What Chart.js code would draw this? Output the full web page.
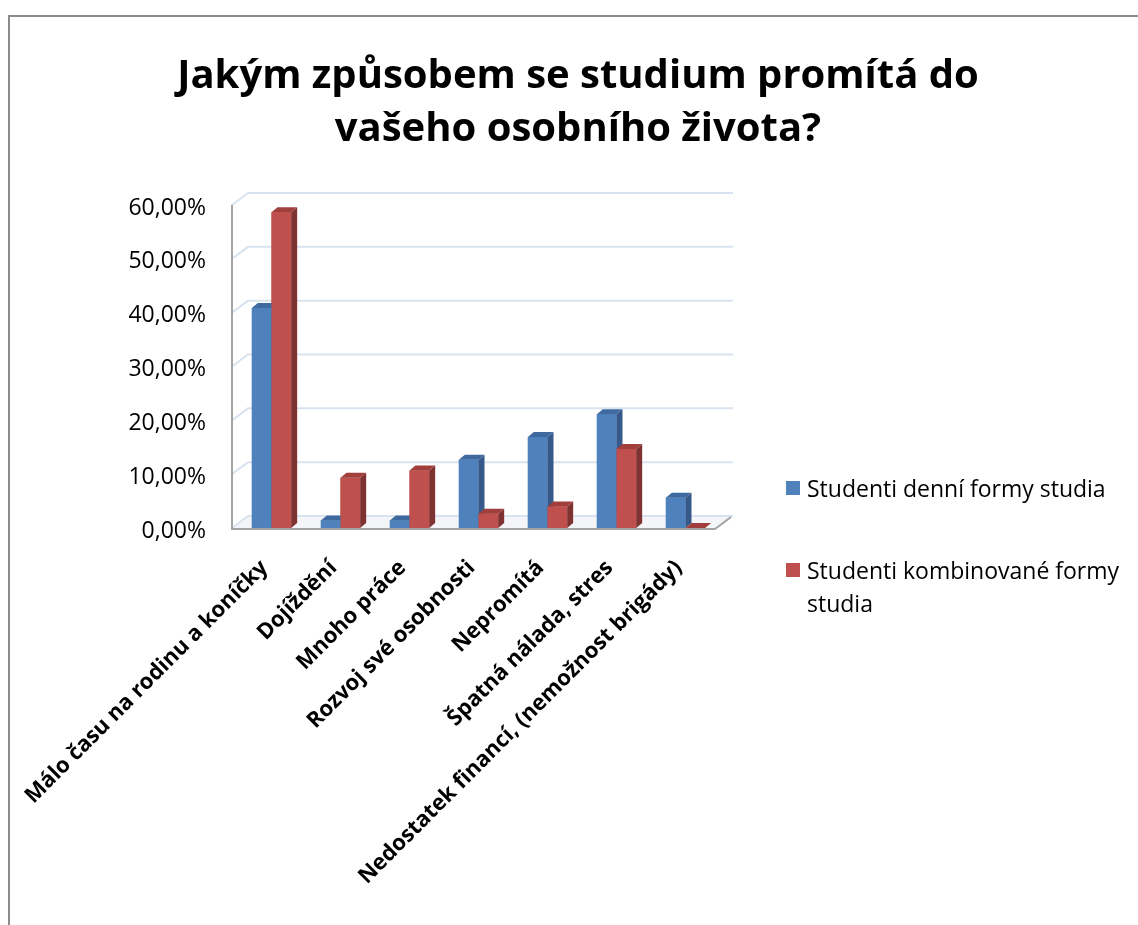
<!DOCTYPE html>
<html>
<head>
<meta charset="utf-8">
<script src="https://cdn.jsdelivr.net/npm/chart.js@4.4.0/dist/chart.umd.min.js"></script>
<style>
html, body { margin: 0; padding: 0; background: #fff; }
body { width: 1138px; height: 925px; position: relative; overflow: hidden; font-family: "Open Sans", sans-serif; }
#frame { position: absolute; left: 8px; top: 15px; width: 1200px; height: 1000px; border-left: 2px solid #8c8c8c; border-top: 2px solid #8c8c8c; }
#chart { position: absolute; left: 0; top: 0; }
#title { position: absolute; left: 0; top: 46px; width: 1156px; text-align: center; font-weight: bold; font-size: 40px; line-height: 53px; color: #000; }
#legend { position: absolute; left: 786px; top: 472px; width: 370px; font-size: 23px; color: #000; }
.item { position: relative; padding-left: 21px; line-height: 33px; margin-bottom: 49px; }
.item .box { position: absolute; left: 0; top: 9px; width: 14px; height: 14px; }
</style>
</head>
<body>
<div id="frame"></div>
<canvas id="chart" width="1138" height="925"></canvas>
<div id="title"></div>
<div id="legend"></div>
<script>
var categories = ['Málo času na rodinu a koníčky', 'Dojíždění', 'Mnoho práce', 'Rozvoj své osobnosti',
  'Nepromítá', 'Špatná nálada, stres', 'Nedostatek financí, (nemožnost brigády)'];
var denni = [40.85, 1.41, 1.41, 12.68, 16.90, 21.13, 5.63];
var kombinovane = [58.67, 9.33, 10.67, 2.67, 4.00, 14.67, 0];
var seriesNames = ['Studenti denní formy studia', 'Studenti kombinované formy studia'];
var yTicks = [0, 10, 20, 30, 40, 50, 60];
var titleLines = ['Jakým způsobem se studium promítá do', 'vašeho osobního života?'];

// front, side, top shades for each series
var shades = [
  { front: '#4f81bd', side: '#37598a', top: '#3f6aa0' },
  { front: '#c0504d', side: '#7f3331', top: '#a13f3c' }
];
var depth = { x: 16, y: -12 };    // walls and floor
var barDepth = { x: 6, y: -5 };   // bars
var wallShift = 5;

function fmtPct(v) {
  return v.toFixed(2).replace('.', ',') + '%';
}

function poly(ctx, pts, fill) {
  ctx.beginPath();
  ctx.moveTo(pts[0][0], pts[0][1]);
  for (var i = 1; i < pts.length; i++) ctx.lineTo(pts[i][0], pts[i][1]);
  ctx.closePath();
  ctx.fillStyle = fill;
  ctx.fill();
}

var walls = {
  id: 'walls',
  beforeDatasetsDraw: function(chart) {
    var ctx = chart.ctx, a = chart.chartArea, ys = chart.scales.y;
    var x0 = a.left - wallShift, x1 = a.right - wallShift;
    ctx.save();
    poly(ctx, [[x0, a.bottom], [x1, a.bottom], [x1 + depth.x, a.bottom + depth.y], [x0 + depth.x, a.bottom + depth.y]], '#f3f5f8');
    ctx.strokeStyle = '#d9e3f0';
    ctx.lineWidth = 2;
    yTicks.forEach(function(v) {
      var y = ys.getPixelForValue(v);
      ctx.beginPath();
      ctx.moveTo(x0, y);
      ctx.lineTo(x0 + depth.x, y + depth.y);
      ctx.lineTo(x1 + depth.x + 2, y + depth.y);
      ctx.stroke();
    });
    ctx.strokeStyle = '#a3a3a3';
    ctx.beginPath();
    ctx.moveTo(x0, ys.getPixelForValue(yTicks[yTicks.length - 1]));
    ctx.lineTo(x0, a.bottom + 1);
    ctx.lineTo(x1, a.bottom + 1);
    ctx.lineTo(x1 + depth.x, a.bottom + 1 + depth.y);
    ctx.stroke();
    ctx.restore();
  },
  afterDatasetsDraw: function(chart) {
    var ctx = chart.ctx;
    ctx.save();
    for (var d = 0; d < chart.data.datasets.length; d++) {
      var meta = chart.getDatasetMeta(d), c = shades[d];
      meta.data.forEach(function(bar) {
        var p = bar.getProps(['x', 'y', 'base', 'width'], true);
        var l = p.x - p.width / 2, r = p.x + p.width / 2;
        var t = Math.min(p.y, p.base), b = Math.max(p.y, p.base);
        bar.draw(ctx);
        poly(ctx, [[r, t], [r + barDepth.x, t + barDepth.y], [r + barDepth.x, b + barDepth.y], [r, b]], c.side);
        poly(ctx, [[l, t], [l + barDepth.x, t + barDepth.y], [r + barDepth.x, t + barDepth.y], [r, t]], c.top);
      });
    }
    ctx.restore();
  }
};

document.getElementById('title').innerHTML = titleLines.join('<br>');
document.getElementById('legend').innerHTML = seriesNames.map(function(n, i) {
  return '<div class="item"><span class="box" style="background:' + shades[i].front + '"></span>' + n + '</div>';
}).join('');

var ctx = document.getElementById('chart');
new Chart(ctx, {
  type: 'bar',
  data: {
    labels: categories,
    datasets: [
      { label: seriesNames[0], data: denni, backgroundColor: shades[0].front },
      { label: seriesNames[1], data: kombinovane, backgroundColor: shades[1].front }
    ]
  },
  options: {
    responsive: false,
    animation: false,
    layout: { padding: { top: 205, left: 0, right: 418, bottom: 0 } },
    datasets: { bar: { categoryPercentage: 0.57, barPercentage: 1 } },
    plugins: { legend: { display: false }, tooltip: { enabled: false } },
    scales: {
      x: {
        grid: { display: false, drawTicks: false },
        border: { display: false },
        ticks: {
          autoSkip: false, maxRotation: 45, minRotation: 45, padding: 27, labelOffset: -7,
          color: '#000', font: { family: 'Open Sans', size: 22, weight: 'bold' }
        },
        afterFit: function(scale) {
          scale.height = 397;
          scale.paddingLeft = 0;
          scale.paddingRight = 0;
        }
      },
      y: {
        min: 0, max: 60,
        grid: { display: false, drawTicks: false },
        border: { display: false },
        ticks: {
          stepSize: 10, padding: 31, labelOffset: 3, color: '#000',
          font: { family: 'Open Sans', size: 23 },
          callback: function(v) { return fmtPct(v); }
        },
        afterFit: function(scale) { scale.width = 237; }
      }
    }
  },
  plugins: [walls]
});
</script>
</body>
</html>
